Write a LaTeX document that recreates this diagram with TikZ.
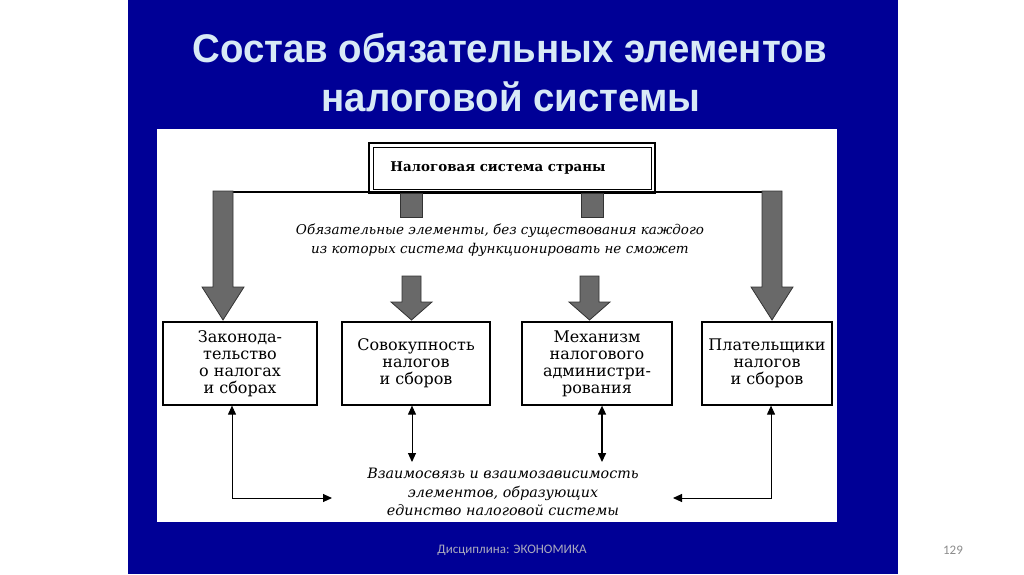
\documentclass[tikz,border=0pt]{standalone}
\usepackage{fontspec}
\setmainfont{DejaVu Serif}
\newfontfamily\titlefont{Liberation Sans}[FakeStretch=0.96]
\newfontfamily\footfont{Carlito}
\usetikzlibrary{arrows.meta}
\definecolor{slideblue}{RGB}{0,0,150}
\definecolor{titlecol}{RGB}{216,234,246}
\definecolor{arrowgray}{RGB}{105,105,105}
\definecolor{footgray}{RGB}{170,170,190}
\tikzset{
  elembox/.style={draw=black, line width=1.2pt, fill=white, minimum height=83pt, inner sep=2pt, align=center, font=\fontsize{16}{17}\selectfont},
  blockarrow/.style={fill=arrowgray, draw=black!80, line width=0.8pt},
  dbl/.style={{Triangle[length=9pt,width=8pt]}-{Triangle[length=9pt,width=8pt]}, line width=1pt},
  itext/.style={font=\fontsize{13.5}{18.5}\selectfont\itshape, align=center, inner sep=0pt}
}
\begin{document}
\begin{tikzpicture}[x=1pt,y=-1pt]
\useasboundingbox (0,0) rectangle (1024,574);
\fill[white] (0,0) rectangle (1024,574);
\fill[slideblue] (128,0) rectangle (898,574);
\fill[white] (157,129) rectangle (837,522);
% title
\node[text=titlecol, font=\titlefont\bfseries\fontsize{40}{44}\selectfont, inner sep=0pt] (t1) at (510,48) {Состав обязательных элементов};
\node[text=titlecol, font=\titlefont\bfseries\fontsize{40}{44}\selectfont, inner sep=0pt] (t2) at (511,97) {налоговой системы};
% footer
\node[text=footgray, font=\footfont\fontsize{13}{15}\selectfont, inner sep=0pt] (foot) at (512,550) {Дисциплина: ЭКОНОМИКА};
\node[text=black!45, font=\footfont\fontsize{13}{15}\selectfont, inner sep=0pt] (pg) at (953,550) {129};
% top box
\node[draw=black, line width=1.8pt, minimum width=286pt, minimum height=50pt, inner sep=0pt, font=\fontsize{13.4}{17}\selectfont\bfseries] (top) at (512,168) {Налоговая система страны\hspace*{28pt}};
\draw[line width=0.8pt] ([shift={(5pt,-5pt)}]top.north west) rectangle ([shift={(-5pt,5pt)}]top.south east);
% horizontal line
\draw[line width=1.2pt] (233,192) -- (762,192);
% big side arrows
\draw[blockarrow] (213,191) -- (233,191) -- (233,287) -- (244,287) -- (223,320) -- (202,287) -- (213,287) -- cycle;
\draw[blockarrow] (762,191) -- (782,191) -- (782,287) -- (793,287) -- (772,320) -- (751,287) -- (762,287) -- cycle;
% stubs under top box
\draw[blockarrow] (400,193) rectangle (422,217);
\draw[blockarrow] (581,193) rectangle (603,217);
% middle text
\node[itext] (mid) at (500,240) {Обязательные элементы, без существования каждого\\из которых система функционировать не сможет};
% middle arrows
\draw[blockarrow] (402,276) -- (421,276) -- (421,302) -- (432,302) -- (411.5,320) -- (391,302) -- (402,302) -- cycle;
\draw[blockarrow] (580,276) -- (599,276) -- (599,302) -- (610,302) -- (589.5,320) -- (569,302) -- (580,302) -- cycle;
% element boxes
\node[elembox, minimum width=154pt] (b1) at (240,363.5) {Законода-\\тельство\\о налогах\\и сборах};
\node[elembox, minimum width=148pt] (b2) at (416,363.5) {Совокупность\\налогов\\и сборов};
\node[elembox, minimum width=150pt] (b3) at (597,363.5) {Механизм\\налогового\\администри-\\рования};
\node[elembox, minimum width=130pt] (b4) at (767,363.5) {Плательщики\\налогов\\и сборов};
% bottom text
\node[itext, font=\fontsize{14.3}{18.5}\selectfont\itshape] (bt) at (503,492) {Взаимосвязь и взаимозависимость\\элементов, образующих\\единство налоговой системы};
\coordinate (cl) at (332,498);
\coordinate (cr) at (673,498);
\coordinate (c2) at (412,462);
\coordinate (c3) at (602,462);
% connectors
\draw[dbl] ([xshift=-8pt]b1.south) |- (cl);
\draw[dbl] ([xshift=4pt]b4.south) |- (cr);
\draw[dbl] ([xshift=-4pt]b2.south) -- (c2);
\draw[dbl, line width=1.6pt] ([xshift=5pt]b3.south) -- (c3);
\end{tikzpicture}
\end{document}
